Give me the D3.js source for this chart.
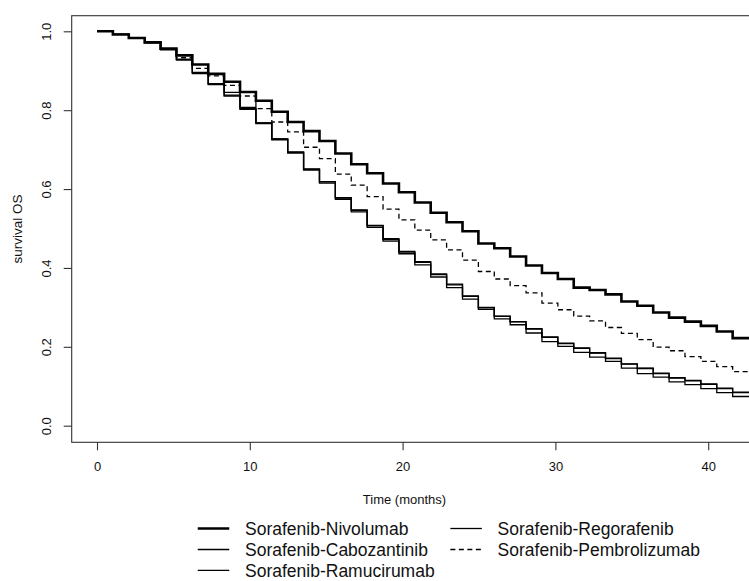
<!DOCTYPE html>
<html>
<head>
<meta charset="utf-8">
<script src="https://cdn.jsdelivr.net/npm/d3@7"></script>
<style>
  html, body { margin: 0; padding: 0; background: #fff; }
  svg { display: block; }
  text { font-family: "Liberation Sans", Arial, sans-serif; fill: #111; }
</style>
</head>
<body>
<svg id="chart" width="749" height="581"></svg>
<script>
// ---- data ----
const stepTimes = [0,1.04,2.08,3.12,4.16,5.2,6.24,7.28,8.32,9.36,10.4,11.44,12.48,13.52,14.56,15.6,16.64,17.68,18.72,19.76,20.8,21.84,22.88,23.92,24.96,26,27.04,28.08,29.12,30.16,31.2,32.24,33.28,34.32,35.36,36.4,37.44,38.48,39.52,40.56,41.6];
const followUpEnd = 43;

const nivolumab = [1.0,0.992,0.983,0.972,0.956,0.939,0.916,0.892,0.872,0.846,0.824,0.796,0.770,0.747,0.722,0.690,0.663,0.640,0.614,0.592,0.566,0.540,0.516,0.493,0.462,0.450,0.429,0.406,0.387,0.372,0.350,0.344,0.333,0.315,0.304,0.287,0.274,0.264,0.253,0.239,0.222];
const cabozantinib = [1.0,0.992,0.983,0.972,0.954,0.929,0.895,0.867,0.838,0.804,0.768,0.727,0.694,0.651,0.619,0.578,0.547,0.508,0.474,0.442,0.416,0.385,0.359,0.329,0.300,0.278,0.264,0.246,0.225,0.209,0.197,0.185,0.171,0.157,0.146,0.133,0.122,0.115,0.106,0.095,0.085];
const ramucirumab = [1.0,0.992,0.983,0.971,0.953,0.927,0.893,0.865,0.836,0.802,0.766,0.725,0.691,0.648,0.615,0.574,0.542,0.503,0.468,0.436,0.408,0.377,0.350,0.321,0.295,0.271,0.256,0.235,0.213,0.201,0.186,0.174,0.163,0.146,0.132,0.123,0.111,0.104,0.094,0.084,0.074];
const regorafenib = [1.0,0.992,0.983,0.972,0.954,0.929,0.896,0.867,0.845,0.807,0.768,0.727,0.693,0.650,0.618,0.577,0.546,0.507,0.472,0.440,0.414,0.383,0.357,0.328,0.299,0.277,0.263,0.245,0.224,0.208,0.196,0.184,0.170,0.156,0.145,0.132,0.121,0.114,0.105,0.094,0.084];
const pembrolizumab = [1.0,0.992,0.983,0.972,0.955,0.933,0.906,0.887,0.863,0.836,0.804,0.770,0.745,0.706,0.677,0.638,0.610,0.581,0.549,0.522,0.496,0.471,0.446,0.420,0.391,0.372,0.355,0.337,0.311,0.294,0.278,0.266,0.249,0.234,0.218,0.199,0.190,0.175,0.163,0.150,0.137];

const seriesNames = ["Sorafenib-Nivolumab","Sorafenib-Cabozantinib","Sorafenib-Ramucirumab","Sorafenib-Regorafenib","Sorafenib-Pembrolizumab"];
const seriesValues = [nivolumab, cabozantinib, ramucirumab, regorafenib, pembrolizumab];
const seriesWidths = [2.6, 1.3, 1.3, 1.3, 1.3];
const seriesDash = [null, null, null, null, "5,3.5"];

const xTicks = [0,10,20,30,40];
const yTicks = [0,0.2,0.4,0.6,0.8,1.0];
const yTickLabels = ["0.0","0.2","0.4","0.6","0.8","1.0"];
const xTitle = "Time (months)";
const yTitle = "survival OS";

// ---- layout ----
const plot = {left: 71.7, top: 15.7, right: 755, bottom: 442.3};
const x = d3.scaleLinear().domain([0, 40]).range([97, 708.2]);
const y = d3.scaleLinear().domain([0, 1]).range([425.7, 31.3]);

const svg = d3.select("#chart");

svg.append("defs").append("clipPath").attr("id","plotclip")
  .append("rect").attr("x", plot.left).attr("y", plot.top)
  .attr("width", plot.right - plot.left).attr("height", plot.bottom - plot.top);

// curves
const line = d3.line().x(d => x(d[0])).y(d => y(d[1])).curve(d3.curveStepAfter);
const g = svg.append("g").attr("clip-path","url(#plotclip)");
const drawOrder = [4, 3, 2, 1, 0];
drawOrder.forEach(i => {
  const vals = seriesValues[i];
  const pts = stepTimes.map((t, k) => [t, vals[k]]);
  pts.push([followUpEnd, vals[vals.length - 1]]);
  g.append("path")
    .attr("d", line(pts))
    .attr("fill","none")
    .attr("stroke","#000")
    .attr("stroke-width", seriesWidths[i])
    .attr("stroke-dasharray", seriesDash[i])
    .attr("stroke-linejoin","miter")
    .attr("stroke-linecap","butt");
});

// box
svg.append("rect")
  .attr("x", plot.left).attr("y", plot.top)
  .attr("width", plot.right - plot.left).attr("height", plot.bottom - plot.top)
  .attr("fill","none").attr("stroke","#333").attr("stroke-width",1.1);

// x axis
const xAxis = d3.axisBottom(x).tickValues(xTicks).tickSize(8).tickSizeOuter(0);
const gx = svg.append("g").attr("transform", `translate(0,${plot.bottom})`).call(xAxis);
gx.select(".domain").remove();
gx.selectAll(".tick line").attr("stroke","#333").attr("stroke-width",1.1);
gx.selectAll(".tick text").attr("font-size", 13).attr("fill","#111")
  .attr("font-family", '"Liberation Sans", Arial, sans-serif')
  .attr("dy", null).attr("y", 28.4);

// y axis
const yAxis = d3.axisLeft(y).tickValues(yTicks).tickSize(8).tickSizeOuter(0)
  .tickFormat((d, i) => yTickLabels[i]);
const gy = svg.append("g").attr("transform", `translate(${plot.left},0)`).call(yAxis);
gy.select(".domain").remove();
gy.selectAll(".tick line").attr("stroke","#333").attr("stroke-width",1.1);
gy.selectAll(".tick text")
  .attr("font-size", 13).attr("fill","#111")
  .attr("font-family", '"Liberation Sans", Arial, sans-serif')
  .attr("x", null).attr("dy", null)
  .attr("text-anchor","middle")
  .attr("transform", `translate(${51.3 - plot.left},0) rotate(-90)`);

// axis titles
svg.append("text").attr("x", 404.5).attr("y", 504)
  .attr("text-anchor","middle").attr("font-size", 13).text(xTitle);
svg.append("text").attr("transform", `translate(22,229) rotate(-90)`)
  .attr("text-anchor","middle").attr("font-size", 13.5).text(yTitle);

// legend
const legendCols = [[0,1,2],[3,4]];
const legendTextX = [245, 497.6];
const legendRowY = [528.5, 549.5, 570.3];
const legendLineLen = 31.5;
const legendGap = 15.75;
legendCols.forEach((col, ci) => {
  col.forEach((si, ri) => {
    const tx = legendTextX[ci], ly = legendRowY[ri];
    svg.append("line")
      .attr("x1", tx - legendGap - legendLineLen).attr("x2", tx - legendGap)
      .attr("y1", ly).attr("y2", ly)
      .attr("stroke","#000").attr("stroke-width", seriesWidths[si])
      .attr("stroke-dasharray", seriesDash[si]);
    svg.append("text")
      .attr("x", tx).attr("y", ly + 6.3)
      .attr("font-size", 17.5).text(seriesNames[si]);
  });
});
</script>
</body>
</html>
